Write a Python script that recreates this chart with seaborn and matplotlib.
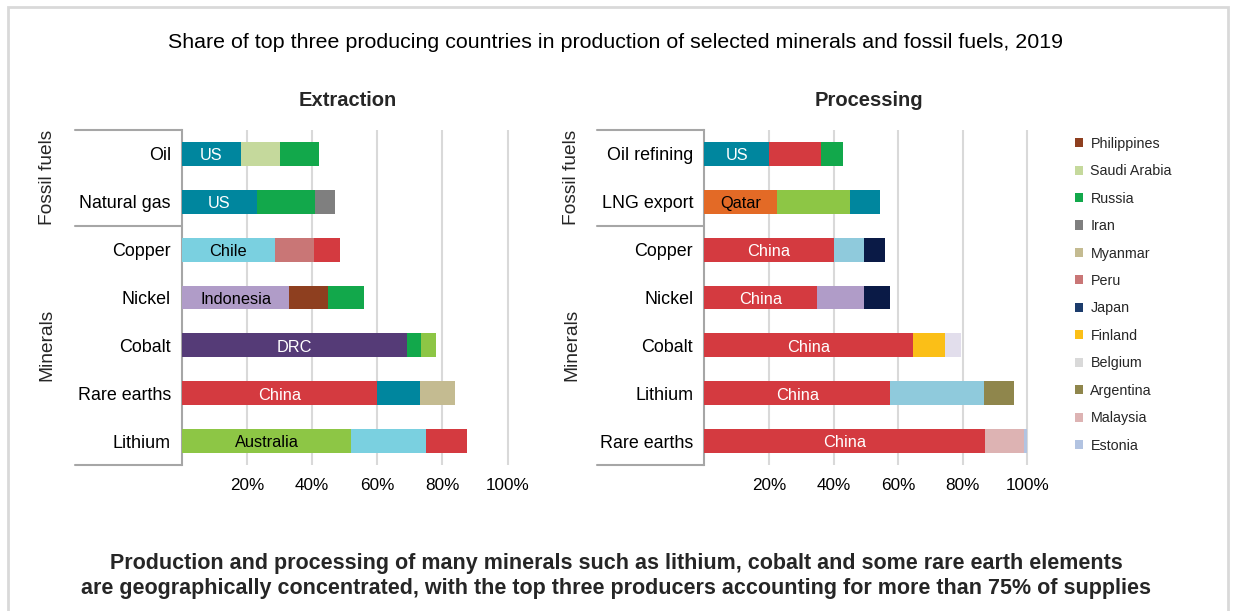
import matplotlib
matplotlib.use("Agg")
import matplotlib.pyplot as plt
from matplotlib.lines import Line2D
from matplotlib.patches import Patch, Rectangle
import seaborn as sns
import pandas as pd

# ---------------- data ----------------
ext_cats = ["Oil", "Natural gas", "Copper", "Nickel", "Cobalt", "Rare earths", "Lithium"]
ext_c1 = ["US", "US", "Chile", "Indonesia", "DRC", "China", "Australia"]
ext_v1 = [18, 23, 28.5, 33, 69, 60, 52]
ext_c2 = ["Saudi Arabia", "Russia", "Peru", "Philippines", "Russia", "US", "Chile"]
ext_v2 = [12, 18, 12, 12, 4.5, 13, 23]
ext_c3 = ["Russia", "Iran", "China", "Russia", "Australia", "Myanmar", "China"]
ext_v3 = [12, 6, 8, 11, 4.5, 11, 12.5]

proc_cats = ["Oil refining", "LNG export", "Copper", "Nickel", "Cobalt", "Lithium", "Rare earths"]
proc_c1 = ["US", "Qatar", "China", "China", "China", "China", "China"]
proc_v1 = [20, 22.5, 40, 35, 64.5, 57.5, 87]
proc_c2 = ["China", "Australia", "Chile", "Indonesia", "Finland", "Chile", "Malaysia"]
proc_v2 = [16, 22.5, 9.5, 14.5, 10, 29, 12]
proc_c3 = ["Russia", "US", "Japan", "Japan", "Belgium", "Argentina", "Estonia"]
proc_v3 = [7, 9.5, 6.5, 8, 5, 9.5, 1]

group_names = ["Fossil fuels", "Minerals"]
legend_countries = ["Philippines", "Saudi Arabia", "Russia", "Iran", "Myanmar", "Peru",
                    "Japan", "Finland", "Belgium", "Argentina", "Malaysia", "Estonia"]
xtick_vals = [20, 40, 60, 80, 100]
xtick_labels = ["20%", "40%", "60%", "80%", "100%"]

title = "Share of top three producing countries in production of selected minerals and fossil fuels, 2019"
panel_titles = ["Extraction", "Processing"]
caption = ("Production and processing of many minerals such as lithium, cobalt and some rare earth elements\n"
           "are geographically concentrated, with the top three producers accounting for more than 75% of supplies")

# ---------------- styles ----------------
COLORS = {
    "US": "#00869e", "Saudi Arabia": "#c5d99c", "Russia": "#12a84b", "Iran": "#7f7f7f",
    "Chile": "#7ad0e0", "Peru": "#c97676", "China": "#d43a40", "Indonesia": "#b09cc8",
    "Philippines": "#8e3f1f", "DRC": "#553b77", "Australia": "#8dc645", "Myanmar": "#c4bb91",
    "Qatar": "#e36a26", "Japan": "#0a1a46", "Finland": "#fbbf17", "Belgium": "#e2deec",
    "Argentina": "#8f864c", "Malaysia": "#ddb3b3", "Estonia": "#b2c3e1",
}
PROC_OVERRIDE = {"Chile": "#8fcadc"}
LEGEND_COLORS = dict(COLORS, Japan="#1c3c6c", Belgium="#d9d9d9")
LABEL_TEXT = {"US": "white", "DRC": "white", "China": "white"}

sns.set_style("white")
plt.rcParams["font.family"] = ["Liberation Sans", "DejaVu Sans"]

W, H = 1233, 611
fig = plt.figure(figsize=(W / 100, H / 100), dpi=100)

def fx(px):
    return px / W

def fy(py):
    return 1 - py / H

# figure frame
fig.patches.append(Rectangle((fx(8), fy(640)), fx(1228) - fx(8), fy(7) - fy(640),
                             transform=fig.transFigure, fill=False,
                             edgecolor="#d9d9d9", lw=2, zorder=0))

fig.text(fx(616), fy(42), title, ha="center", va="center", fontsize=15.4, color="#000000")

top_px, bot_px = 130, 465
pct_px = [3.255, 3.23]
x0_px = [182, 704.3]
bracket_left = [75, 597]
group_x = [47, 572]

panels = [
    (ext_cats, [ext_c1, ext_c2, ext_c3], [ext_v1, ext_v2, ext_v3], {}),
    (proc_cats, [proc_c1, proc_c2, proc_c3], [proc_v1, proc_v2, proc_v3], PROC_OVERRIDE),
]

for p, (cats, cs, vs, override) in enumerate(panels):
    xmax = 102
    ax = fig.add_axes([fx(x0_px[p]), fy(bot_px), fx(xmax * pct_px[p]), (bot_px - top_px) / H])
    cols = dict(COLORS, **override)
    cum = [0] * len(cats)
    cums = []
    for v in vs:
        cum = [a + b for a, b in zip(cum, v)]
        cums.append(list(cum))
    # draw from outermost segment inwards
    for k in [2, 1, 0]:
        df = pd.DataFrame({"cat": cats, "val": cums[k]})
        pal = {c: cols[cs[k][i]] for i, c in enumerate(cats)}
        sns.barplot(data=df, x="val", y="cat", hue="cat", palette=pal, order=cats,
                    hue_order=cats, legend=False, orient="h", width=0.5, saturation=1,
                    linewidth=0, ax=ax, zorder=3)
    for i, c in enumerate(cats):
        name = cs[0][i]
        ax.text(vs[0][i] / 2, i + 0.04, name, ha="center", va="center", fontsize=11.8,
                color=LABEL_TEXT.get(name, "black"), zorder=5)
    ax.set_xlim(0, xmax)
    ax.set_ylim(len(cats) - 0.5, -0.5)
    ax.set_xticks(xtick_vals)
    ax.set_xticklabels(xtick_labels)
    ax.set_xlabel("")
    ax.set_ylabel("")
    ax.grid(axis="x", color="#d9d9d9", lw=1.5, zorder=0)
    ax.set_axisbelow(True)
    for s in ["top", "right", "bottom"]:
        ax.spines[s].set_visible(False)
    ax.spines["left"].set_color("#a6a6a6")
    ax.spines["left"].set_linewidth(1.5)
    ax.tick_params(axis="x", length=0, pad=9, labelsize=12.3, colors="#000000")
    ax.tick_params(axis="y", length=0, pad=8, labelsize=12.9, colors="#000000")
    ax.set_title(panel_titles[p], fontsize=14.5, fontweight="bold", pad=17)

    # bracket lines
    sep_px = top_px + 2 * (bot_px - top_px) / len(cats)
    for ypx in [top_px, sep_px, bot_px]:
        fig.add_artist(Line2D([fx(bracket_left[p]), fx(x0_px[p])], [fy(ypx), fy(ypx)],
                              transform=fig.transFigure, color="#a6a6a6", lw=1.5))
    fig.text(fx(group_x[p]), fy((top_px + sep_px) / 2), group_names[0], rotation=90,
             ha="center", va="center", fontsize=13.8)
    fig.text(fx(group_x[p]), fy((sep_px + bot_px) / 2), group_names[1], rotation=90,
             ha="center", va="center", fontsize=13.8)

handles = [Patch(facecolor=LEGEND_COLORS[c], edgecolor="none", label=c) for c in legend_countries]
fig.legend(handles=handles, loc="upper left", bbox_to_anchor=(fx(1069), fy(131)),
           frameon=False, fontsize=10.3, handlelength=0.6, handleheight=0.6,
           handletextpad=0.5, labelspacing=0.94, borderaxespad=0)

fig.text(fx(616), fy(576), caption, ha="center", va="center", fontsize=15.5,
         fontweight="bold", linespacing=1.3)

fig.savefig("out.png", dpi=100, facecolor="white")
